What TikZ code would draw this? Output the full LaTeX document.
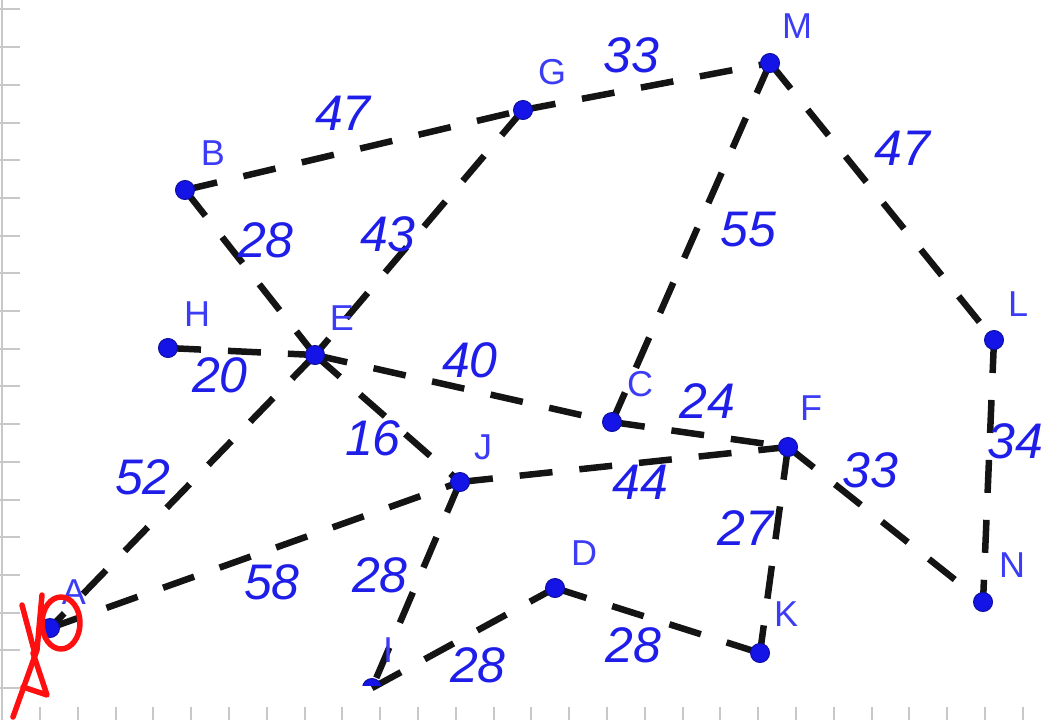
\documentclass[tikz,border=0pt]{standalone}
\usepackage{fontspec}
\setmainfont{Liberation Sans}
\usepackage{tikz}
\usetikzlibrary{backgrounds}
\definecolor{dotc}{HTML}{1414E6}
\definecolor{labc}{HTML}{3C3CF5}
\definecolor{wtc}{HTML}{1E1EE8}
\definecolor{gridc}{HTML}{C8C8C8}
\definecolor{penred}{HTML}{FF1010}
\tikzset{
  vtx/.style={circle,fill=dotc,draw=dotc!70!black,line width=1pt,inner sep=0pt,minimum size=19pt},
  vlab/.style={text=labc,font=\fontsize{36}{36}\selectfont,inner sep=0pt},
  wt/.style={text=wtc,font=\fontsize{50}{50}\selectfont\itshape,inner sep=0pt},
  road/.style={line width=6.5pt,dash pattern=on 33pt off 27pt,black!92},
  gtick/.style={gridc,line width=2pt},
  pen/.style={penred,line width=5.5pt,line cap=round,line join=round},
}

\begin{document}
\begin{tikzpicture}[x=1pt,y=-1pt]
\useasboundingbox (0,0) rectangle (1046,720);
\draw[gtick] (2,0) -- (2,720);
\foreach \k in {0,...,18} \draw[gtick] (0,9.4+37.7*\k) -- (20,9.4+37.7*\k);
\foreach \k in {0,...,26} \draw[gtick] (40+37.8*\k,707) -- (40+37.8*\k,720);
% vertices
\node[vtx] (A) at (50,628) {};
\node[vtx] (B) at (185,190) {};
\node[vtx] (G) at (523,110) {};
\node[vtx] (M) at (770,63) {};
\node[vtx] (H) at (168,348) {};
\node[vtx] (E) at (315,355) {};
\node[vtx] (C) at (612,422) {};
\node[vtx] (F) at (788,447) {};
\node[vtx] (J) at (460,482) {};
\node[vtx] (L) at (994,340) {};
\node[vtx] (N) at (983,602) {};
\node[vtx] (D) at (555,588) {};
\node[vtx] (K) at (760,653) {};
\begin{scope}
\clip (340,650) rectangle (400,685);
\node[vtx] (I) at (372,688) {};
\end{scope}
\foreach \v/\p in {A/{74,592},B/{213,153},G/{552,72},M/{797,26},H/{197,314},E/{342,318},C/{640,384},F/{811,408},J/{483,447},L/{1018,304},N/{1012,565},D/{584,553},K/{786,614},I/{388,650}}
  \node[vlab] (l\v) at (\p) {\v};
% edges
\begin{scope}[on background layer]
\foreach \a/\b in {B/G,G/M,M/L,M/C,G/E,B/E,H/E,E/C,E/J,E/A,C/F,J/F,F/N,F/K,L/N,A/J,J/I,I/D,D/K}
  \draw[road] (\a.center) -- (\b.center);
\end{scope}
% weights
\foreach \w/\p [count=\n] in {47/{343,113},33/{631,55},47/{902,148},55/{748,230},43/{388,234},28/{266,240},20/{220,375},40/{470,360},16/{373,438},52/{143,477},24/{707,401},44/{640,482},33/{870,470},27/{745,528},34/{1015,441},58/{272,582},28/{380,575},28/{478,665},28/{633,645}}
  \node[wt] (w\n) at (\p) {\w};
% red marks
\draw[pen] (22,605) -- (34,650);
\draw[pen] (42,595) -- (37,650) -- (13,717);
\draw[pen] (33,653) -- (47,695) -- (23,687);
\draw[pen] (61,623) ellipse [x radius=19,y radius=26];
\end{tikzpicture}
\end{document}
